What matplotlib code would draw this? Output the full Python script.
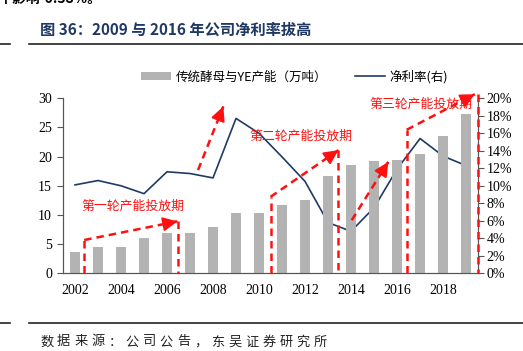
import matplotlib
matplotlib.use("Agg")
import matplotlib.pyplot as plt
from matplotlib.patches import Patch
from matplotlib.lines import Line2D
import numpy as np

plt.rcParams['font.family'] = ['Liberation Serif', 'Noto Sans CJK SC', 'DejaVu Sans']

years = list(range(2002, 2020))
capacity = [3.6, 4.5, 4.5, 6.1, 6.9, 6.9, 7.9, 10.4, 10.4, 11.7, 12.6, 16.7, 18.6, 19.2, 19.5, 20.4, 23.5, 27.3]
net_margin = [10.1, 10.6, 10.0, 9.1, 11.6, 11.4, 10.9, 17.7, 16.0, 13.3, 10.5, 5.8, 4.8, 7.5, 11.9, 15.4, 13.4, 12.3]
xticks = [2002, 2004, 2006, 2008, 2010, 2012, 2014, 2016, 2018]
left_ticks = [0, 5, 10, 15, 20, 25, 30]
right_ticks = list(range(0, 21, 2))

legend_bar = '传统酵母与YE产能（万吨）'
legend_line = '净利率(右)'
title = '图 36：2009 与 2016 年公司净利率拔高'
source = '数据来源：公司公告，东吴证券研究所'
top_text = '平影响-0.38%。'

phase_labels = ['第一轮产能投放期', '第二轮产能投放期', '第三轮产能投放期']
phase_label_pos = [(2004.5, 11.4), (2011.8, 23.4), (2017.05, 28.9)]

# red dashed annotation paths (data coords on left axis)
paths = [
    ([2002.40, 2002.40], [0, 5.7], False),
    ([2002.40, 2006.45], [5.7, 8.9], True),
    ([2006.47, 2006.47], [8.9, 0], False),
    ([2007.35, 2008.45], [17.7, 28.6], True),
    ([2010.5, 2010.5], [0, 13.1], False),
    ([2010.5, 2013.45], [13.1, 21.1], True),
    ([2013.45, 2013.45], [21.1, 0], False),
    ([2014.03, 2015.62], [9.1, 19.1], True),
    ([2016.42, 2016.42], [0, 24.6], False),
    ([2016.42, 2019.38], [24.6, 30.7], True),
    ([2019.5, 2019.5], [30.7, 0], False),
]

fig = plt.figure(figsize=(5.23, 3.51), dpi=100)
ax = fig.add_axes([0.1205, 0.2214, 0.7935, 0.4986])
ax2 = ax.twinx()

ax.bar(years, capacity, width=0.46, color='#B3B3B3', zorder=2)
ax2.plot(years, net_margin, color='#1F3B63', lw=1.2, zorder=3)

ax.set_xlim(2001.48, 2019.52)
ax.set_ylim(0, 30)
ax2.set_ylim(0, 20)
ax.set_xticks(xticks)
ax.set_xticklabels([str(x) for x in xticks], fontsize=10)
ax.set_yticks(left_ticks)
ax.set_yticklabels([str(v) for v in left_ticks], fontsize=10)
ax2.set_yticks(right_ticks)
ax2.set_yticklabels([f'{v}%' for v in right_ticks], fontsize=10)
ax.tick_params(axis='x', length=0, pad=8)
ax.tick_params(axis='y', length=4, direction='out', color='#555555', pad=4)
ax2.tick_params(axis='y', length=4, direction='out', color='#555555', pad=2)
for a in (ax, ax2):
    a.spines['top'].set_visible(False)
    for s in ('left', 'bottom', 'right'):
        a.spines[s].set_color('#555555')
        a.spines[s].set_linewidth(0.8)
ax.set_zorder(ax2.get_zorder() + 1)
ax.patch.set_visible(False)

red = '#FF1010'
for xs, ys, head in paths:
    ax.plot(xs, ys, color=red, lw=1.8, linestyle=(0, (3, 2)), clip_on=False, zorder=5)
    if head:
        x0, x1 = xs
        y0, y1 = ys
        ax.annotate('', xy=(x1, y1), xytext=(x1 - 0.02 * (x1 - x0), y1 - 0.02 * (y1 - y0)),
                    arrowprops=dict(arrowstyle='-|>,head_length=0.85,head_width=0.42',
                                    color=red, lw=1.5, shrinkA=0, shrinkB=0),
                    annotation_clip=False, zorder=6)

for lab, (x, y) in zip(phase_labels, phase_label_pos):
    ax.text(x, y, lab, color=red, fontsize=9.3, ha='center', va='center',
            family=['Noto Sans CJK SC', 'DejaVu Sans'], zorder=7)

handles = [Patch(facecolor='#B3B3B3', edgecolor='none'),
           Line2D([0], [0], color='#1F3B63', lw=1.2)]
fig.legend(handles, [legend_bar, legend_line], loc='center', bbox_to_anchor=(0.563, 0.781),
           ncol=2, frameon=False, handlelength=2.4, handleheight=0.6,
           columnspacing=2.2, handletextpad=0.4,
           prop={'family': ['Noto Sans CJK SC', 'DejaVu Sans'], 'size': 9})

fig.text(0.076, 1 - 30 / 351, title, fontsize=11, fontweight='bold', color='#1F3864',
         ha='left', va='center', family=['Noto Sans CJK SC', 'DejaVu Sans'])
fig.text(-0.004, 1 + 1 / 351, top_text, fontsize=10, fontweight='bold', color='black',
         ha='left', va='center', family=['Noto Sans CJK SC', 'DejaVu Sans'])
# footer, with the wide character spacing of the reference
for i, ch in enumerate(source):
    fig.text((40 + i * 17.1) / 523, 1 - 342 / 351, ch, fontsize=9.5, color='#222222',
             ha='left', va='center', family=['Noto Sans CJK SC', 'DejaVu Sans'])

for yy in (1 - 44 / 351, 1 - 323 / 351):
    fig.add_artist(Line2D([0, 10 / 523], [yy, yy], color='#222222', lw=1.2, transform=fig.transFigure))
    fig.add_artist(Line2D([29 / 523, 1], [yy, yy], color='#222222', lw=1.2, transform=fig.transFigure))

fig.savefig('out.png', dpi=100)
